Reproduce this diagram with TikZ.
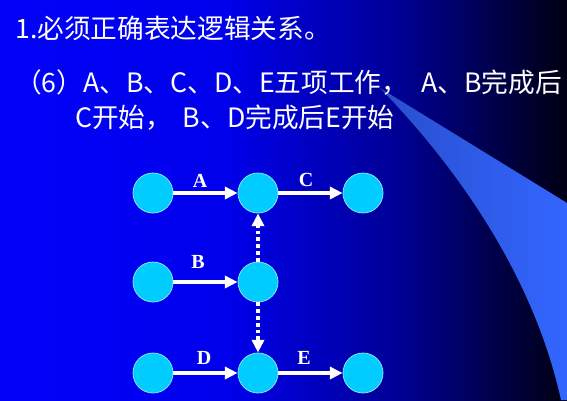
\documentclass[tikz,border=0pt]{standalone}
\usepackage{fontspec}
\usepackage{xcolor}
\usepackage{tikz}
\usetikzlibrary{arrows.meta}
\newfontfamily\cjk{Noto Sans CJK SC}
\newfontfamily\lblfont{Liberation Serif}
\definecolor{bgA}{RGB}{2,2,250}
\definecolor{bgB}{RGB}{0,0,235}
\definecolor{bgC}{RGB}{0,0,150}
\definecolor{bgD}{RGB}{0,0,45}
\definecolor{bgE}{RGB}{0,0,20}
\definecolor{beamA}{RGB}{40,78,205}
\definecolor{beamB}{RGB}{50,98,245}
\definecolor{beamC}{RGB}{51,102,255}
\definecolor{evtfill}{RGB}{0,204,255}
\definecolor{evtline}{RGB}{130,230,255}
\pgfdeclarehorizontalshading{bgshade}{100bp}{color(0bp)=(bgA); color(25bp)=(bgA); color(45bp)=(bgB); color(60bp)=(bgC); color(72bp)=(bgD); color(75bp)=(bgE); color(100bp)=(bgE)}

\begin{document}
\begin{tikzpicture}[x=0.75pt,y=0.75pt,yscale=-1,xscale=1,
	evt/.style={circle,fill=evtfill,draw=evtline,line width=0.6pt,minimum size=30pt,inner sep=0pt},
	arr/.style={white,line width=3pt,-{Triangle[length=9.5pt,width=9pt]}},
	dmy/.style={arr,dash pattern=on 2.8pt off 2.3pt},
	txt/.style={white,anchor=west,inner sep=0pt,font=\cjk\fontsize{20}{24}\selectfont},
	lbl/.style={white,inner sep=0pt,font=\lblfont\bfseries\fontsize{15}{18}\selectfont}]
			\useasboundingbox (0,0) rectangle (567,400);
			%Shape: Rectangle [background]
			\fill [shading=bgshade] (0,0) rectangle (567,400);
			%Shape: Beam
			\fill [left color=beamA, middle color=beamB, right color=beamC] (380,88) -- (567,203) -- (567,400) -- (561,400) .. controls (530,260) and (440,150) .. (380,88) -- cycle;
			
			% Text Node
			\draw (15,28) node [txt] (head) {1.必须正确表达逻辑关系。};
			% Text Node
			\draw (15,83) node [txt] (rule1) {（6）A、B、C、D、E五项工作，\hspace{0.5em}A、B完成后};
			% Text Node
			\draw (75,118) node [txt] (rule2) {C开始，\hspace{0.4em}B、D完成后E开始};
			
			%Shape: Circle
			\node [evt] (a1) at (153,193) {};
			\node [evt] (a2) at (258,193) {};
			\node [evt] (a3) at (363,193) {};
			\node [evt] (b1) at (153,282) {};
			\node [evt] (b2) at (258,282) {};
			\node [evt] (c1) at (153,373) {};
			\node [evt] (c2) at (258,373) {};
			\node [evt] (c3) at (363,373) {};
			
			%Straight Lines
			\draw [arr] (a1) -- (a2);
			\draw [arr] (a2) -- (a3);
			\draw [arr] (b1) -- (b2);
			\draw [arr] (c1) -- (c2);
			\draw [arr] (c2) -- (c3);
			%Straight Lines [dummy]
			\draw [dmy] (b2) -- (a2);
			\draw [dmy] (b2) -- (c2);
			
			% Text Node
			\draw (200,181) node [lbl] (lA) {A};
			% Text Node
			\draw (306,180) node [lbl] (lC) {C};
			% Text Node
			\draw (198,262) node [lbl] (lB) {B};
			% Text Node
			\draw (204,358) node [lbl] (lD) {D};
			% Text Node
			\draw (304,358) node [lbl] (lE) {E};
			
\end{tikzpicture}
\end{document}
